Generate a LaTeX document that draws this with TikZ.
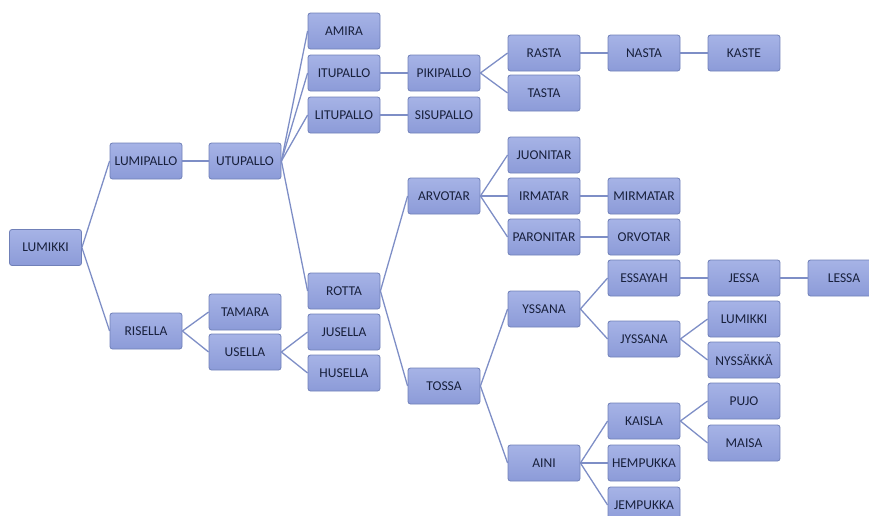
\documentclass[tikz,border=0pt]{standalone}
\usepackage{fontspec}
\setmainfont{Carlito}
\usetikzlibrary{calc}

\definecolor{boxtop}{HTML}{A6B3E6}
\definecolor{boxbot}{HTML}{8C9BD8}
\definecolor{boxline}{HTML}{7080B8}
\definecolor{linkc}{HTML}{7E8EC6}
\definecolor{namec}{HTML}{18203C}

\tikzset{
  namebox/.style={draw=boxline, line width=0.8pt, rounded corners=2.5pt,
    top color=boxtop, bottom color=boxbot, text=namec,
    minimum width=72pt, minimum height=36pt, inner sep=1pt,
    font=\fontsize{13.5}{14}\selectfont},
  link/.style={draw=linkc, line width=1.3pt}
}

\begin{document}
\begin{tikzpicture}[x=1pt, y=-1pt]
      \useasboundingbox (0,0) rectangle (869,515);
      \begin{scope}
      \clip (0,0) rectangle (869,515);

      % Juuri ja toinen sukupolvi
      \node[namebox] (lumikki)   at (45.5,247.5) {LUMIKKI};
      \node[namebox] (lumipallo) at (146,161) {LUMIPALLO};
      \node[namebox] (risella)   at (146,331) {RISELLA};

      % Kolmas sarake
      \node[namebox] (utupallo)  at (245,161) {UTUPALLO};
      \node[namebox] (tamara)    at (245,312) {TAMARA};
      \node[namebox] (usella)    at (245,352) {USELLA};

      % Neljäs sarake
      \node[namebox] (amira)     at (344,31)  {AMIRA};
      \node[namebox] (itupallo)  at (344,73)  {ITUPALLO};
      \node[namebox] (litupallo) at (344,115) {LITUPALLO};
      \node[namebox] (rotta)     at (344,291) {ROTTA};
      \node[namebox] (jusella)   at (344,332) {JUSELLA};
      \node[namebox] (husella)   at (344,373) {HUSELLA};

      % Viides sarake
      \node[namebox] (pikipallo) at (444,73)  {PIKIPALLO};
      \node[namebox] (sisupallo) at (444,115) {SISUPALLO};
      \node[namebox] (arvotar)   at (444,196) {ARVOTAR};
      \node[namebox] (tossa)     at (444,386) {TOSSA};

      % Kuudes sarake
      \node[namebox] (rasta)     at (544,53)  {RASTA};
      \node[namebox] (tasta)     at (544,93)  {TASTA};
      \node[namebox] (juonitar)  at (544,155) {JUONITAR};
      \node[namebox] (irmatar)   at (544,196) {IRMATAR};
      \node[namebox] (paronitar) at (544,237) {PARONITAR};
      \node[namebox] (yssana)    at (544,309) {YSSANA};
      \node[namebox] (aini)      at (544,463) {AINI};

      % Seitsemäs sarake
      \node[namebox] (nasta)     at (644,53)  {NASTA};
      \node[namebox] (mirmatar)  at (644,196) {MIRMATAR};
      \node[namebox] (orvotar)   at (644,237) {ORVOTAR};
      \node[namebox] (essayah)   at (644,278) {ESSAYAH};
      \node[namebox] (jyssana)   at (644,339) {JYSSANA};
      \node[namebox] (kaisla)    at (644,421) {KAISLA};
      \node[namebox] (hempukka)  at (644,463) {HEMPUKKA};
      \node[namebox] (jempukka)  at (644,505) {JEMPUKKA};

      % Kahdeksas ja yhdeksäs sarake
      \node[namebox] (kaste)     at (744,53)  {KASTE};
      \node[namebox] (jessa)     at (744,278) {JESSA};
      \node[namebox] (lumikkib)  at (744,319) {LUMIKKI};
      \node[namebox] (nyssakka)  at (744,360) {NYSSÄKKÄ};
      \node[namebox] (pujo)      at (744,401) {PUJO};
      \node[namebox] (maisa)     at (744,443) {MAISA};
      \node[namebox] (lessa)     at (844,278) {LESSA};

      % Yhteydet vanhemmasta lapseen
      \foreach \p/\c in {lumikki/lumipallo, lumikki/risella, lumipallo/utupallo,
          utupallo/amira, utupallo/itupallo, utupallo/litupallo, utupallo/rotta,
          itupallo/pikipallo, litupallo/sisupallo, pikipallo/rasta, pikipallo/tasta,
          rasta/nasta, nasta/kaste, risella/tamara, risella/usella,
          usella/jusella, usella/husella, rotta/arvotar, rotta/tossa,
          arvotar/juonitar, arvotar/irmatar, arvotar/paronitar,
          irmatar/mirmatar, paronitar/orvotar, tossa/yssana, tossa/aini,
          yssana/essayah, yssana/jyssana, essayah/jessa, jessa/lessa,
          jyssana/lumikkib, jyssana/nyssakka,
          aini/kaisla, aini/hempukka, aini/jempukka, kaisla/pujo, kaisla/maisa}
        \draw[link] (\p.east) -- (\c.west);
      \end{scope}
    \end{tikzpicture}
\end{document}
